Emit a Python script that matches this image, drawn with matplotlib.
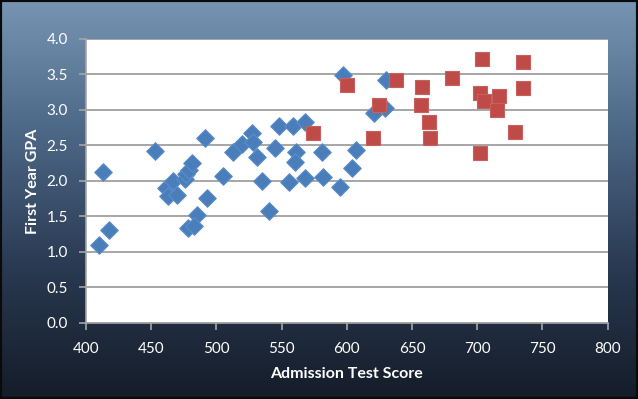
import matplotlib
matplotlib.use("Agg")
import matplotlib.pyplot as plt
import numpy as np
from matplotlib.colors import LinearSegmentedColormap
from matplotlib.patches import Rectangle

# Blue series (diamonds)
blue_x = [410, 418, 413, 453, 461, 467, 463, 470, 476, 477, 479, 481, 491, 505, 493,
          485, 478, 483, 513, 520, 527, 528, 531, 535, 540, 548, 545, 559, 568, 561,
          560, 556, 568, 581, 582, 595, 604, 607, 621, 597, 630, 629]
blue_y = [1.10, 1.30, 2.12, 2.42, 1.90, 2.00, 1.78, 1.80, 2.03, 2.10, 2.15, 2.25, 2.60, 2.07, 1.76,
          1.52, 1.33, 1.36, 2.40, 2.52, 2.68, 2.55, 2.34, 2.00, 1.58, 2.77, 2.47, 2.77, 2.83, 2.41,
          2.26, 1.98, 2.04, 2.41, 2.06, 1.91, 2.18, 2.43, 2.96, 3.49, 3.42, 3.03]

# Red series (squares)
red_x = [574, 600, 620, 625, 638, 658, 657, 663, 664, 681, 702, 705, 704, 702, 735,
         717, 715, 735, 729]
red_y = [2.68, 3.35, 2.60, 3.07, 3.42, 3.33, 3.07, 2.83, 2.61, 3.45, 3.24, 3.12, 3.72, 2.39, 3.67,
         3.20, 3.00, 3.31, 2.69]

x_ticks = [400, 450, 500, 550, 600, 650, 700, 750, 800]
y_ticks = [0.0, 0.5, 1.0, 1.5, 2.0, 2.5, 3.0, 3.5, 4.0]

plt.rcParams['font.family'] = ['Lato', 'DejaVu Sans']

fig = plt.figure(figsize=(6.38, 3.99), dpi=100)

# Background gradient
bg = fig.add_axes([0, 0, 1, 1], zorder=-10)
cmap = LinearSegmentedColormap.from_list("bg", ["#7795b3", "#4c6786", "#2a3a52", "#141c28"])
grad = np.linspace(0, 1, 256).reshape(-1, 1)
bg.imshow(grad, aspect='auto', cmap=cmap, extent=[0, 1, 0, 1], origin='upper')
bg.add_patch(Rectangle((0, 0), 1, 1, transform=bg.transAxes, fill=False,
                       edgecolor='#0a0a0a', linewidth=3))
bg.set_axis_off()

ax = fig.add_axes([86/638, 1 - 322.7/399, (607.5 - 86)/638, (322.7 - 39)/399])
ax.set_facecolor('white')
ax.set_xlim(400, 800)
ax.set_ylim(0, 4.0)
ax.set_xticks(x_ticks)
ax.set_yticks(y_ticks)
ax.set_xticklabels([str(v) for v in x_ticks])
ax.set_yticklabels([f"{v:.1f}" for v in y_ticks])

ax.yaxis.grid(True, color='#a6a6a6', linewidth=1.4)
ax.set_axisbelow(True)
for s in ['top', 'right']:
    ax.spines[s].set_visible(False)
for s in ['left', 'bottom']:
    ax.spines[s].set_color('#a6a6a6')
    ax.spines[s].set_linewidth(1.2)

ax.tick_params(axis='both', colors='#a6a6a6', labelcolor='white', length=5,
               width=1.2, labelsize=11, direction='out')
ax.tick_params(axis='x', pad=9)
ax.tick_params(axis='y', pad=8)

ax.scatter(blue_x, blue_y, marker='D', s=80, color='#4a7ebb', edgecolors='#5b8dc9',
           linewidths=0.8, zorder=3)
ax.scatter(red_x, red_y, marker='s', s=100, color='#be4b48', edgecolors='#c8615e',
           linewidths=0.8, zorder=3)

ax.set_xlabel('Admission Test Score', color='white', fontsize=11.5, fontweight='bold', labelpad=8)
ax.set_ylabel('First Year GPA', color='white', fontsize=11.5, fontweight='bold', labelpad=5)

fig.savefig('out.png', dpi=100)
